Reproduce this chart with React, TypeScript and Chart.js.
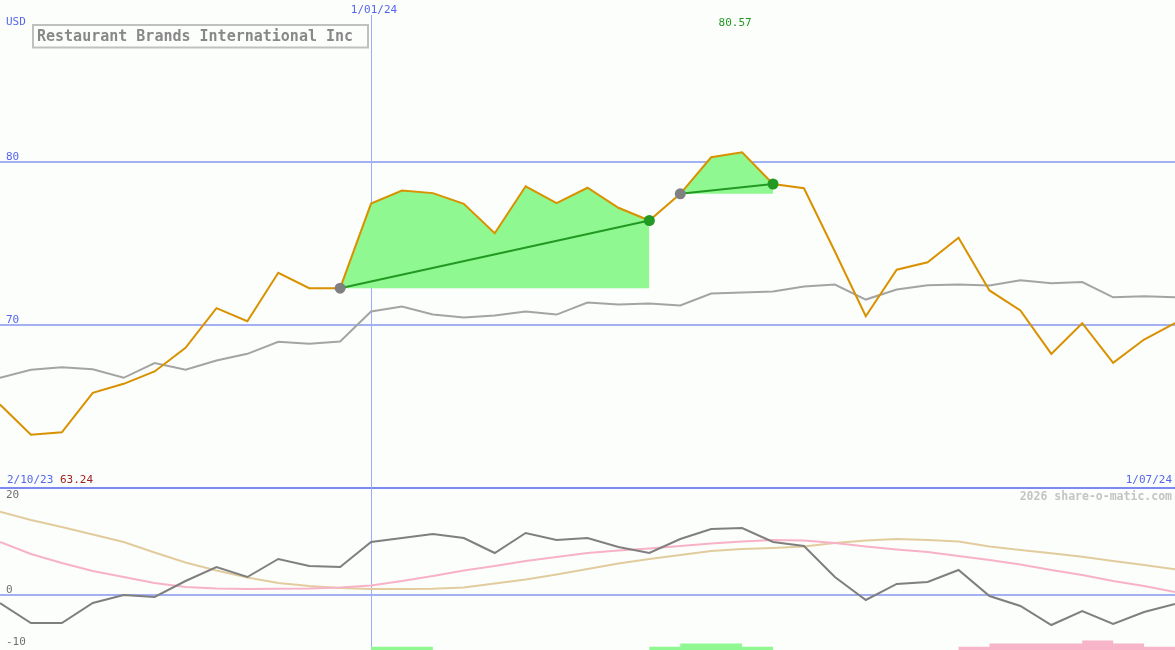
import React, { useEffect, useRef } from "react";
import { Chart, registerables } from "chart.js";

Chart.register(...registerables);

// ---- data (weekly points, index 0..38) ----
const priceRBI = [
  65.09, 63.24, 63.39, 65.81, 66.36, 67.12, 68.57, 71.0, 70.2, 73.17,
  72.23, 72.23, 77.42, 78.22, 78.06, 77.4, 75.6, 78.48, 77.44, 78.39,
  77.16, 76.38, 78.02, 80.26, 80.57, 78.62, 78.36, 74.48, 70.51, 73.36,
  73.82, 75.32, 72.09, 70.86, 68.2, 70.08, 67.65, 69.08, 70.08,
];
const indexLine = [
  66.73, 67.22, 67.38, 67.26, 66.73, 67.63, 67.22, 67.79, 68.2, 68.94,
  68.82, 68.96, 70.8, 71.1, 70.61, 70.43, 70.55, 70.8, 70.61, 71.35,
  71.23, 71.29, 71.17, 71.9, 71.96, 72.02, 72.33, 72.45, 71.53, 72.15,
  72.41, 72.45, 72.39, 72.72, 72.53, 72.6, 71.67, 71.74, 71.67,
];
const momentum = [
  -1.68, -5.89, -5.89, -1.68, 0, -0.42, 2.95, 5.89, 3.79, 7.58,
  6.11, 5.89, 11.16, 12.0, 12.84, 12.0, 8.84, 13.05, 11.58, 12.0,
  10.11, 8.84, 11.79, 13.89, 14.11, 11.16, 10.32, 3.79, -1.05, 2.32,
  2.74, 5.26, -0.21, -2.32, -6.32, -3.37, -6.11, -3.58, -1.89,
];
const pinkAvg = [
  11.16, 8.63, 6.74, 5.05, 3.79, 2.53, 1.68, 1.37, 1.26, 1.33,
  1.37, 1.58, 2.0, 2.95, 4.0, 5.16, 6.11, 7.16, 8.0, 8.84,
  9.37, 9.79, 10.32, 10.84, 11.26, 11.58, 11.47, 10.95, 10.21, 9.58,
  9.05, 8.21, 7.37, 6.42, 5.26, 4.21, 2.95, 1.89, 0.63,
];
const tanAvg = [
  17.54, 15.79, 14.32, 12.74, 11.16, 8.95, 6.84, 5.16, 3.68, 2.53,
  1.89, 1.47, 1.26, 1.26, 1.33, 1.58, 2.42, 3.26, 4.32, 5.47,
  6.63, 7.58, 8.42, 9.26, 9.68, 9.89, 10.21, 10.95, 11.47, 11.79,
  11.58, 11.26, 10.21, 9.47, 8.78, 8.06, 7.16, 6.32, 5.41,
];
const buySignal = [
  0, 0, 0, 0, 0, 0, 0, 0, 0, 0,
  0, 0, 1, 1, 0, 0, 0, 0, 0, 0,
  0, 1, 2, 2, 1, 0, 0, 0, 0, 0,
  0, 0, 0, 0, 0, 0, 0, 0, 0,
];
const sellSignal = [
  0, 0, 0, 0, 0, 0, 0, 0, 0, 0,
  0, 0, 0, 0, 0, 0, 0, 0, 0, 0,
  0, 0, 0, 0, 0, 0, 0, 0, 0, 0,
  0, 1, 2, 2, 2, 3, 2, 1, 0,
];
const tradeEntries = [11, 22];
const tradeExits = [21, 25];
const priceTicks = [80, 70];
const momentumTicks = [20, 0, -10];
const startDate = "2/10/23";
const endDate = "1/07/24";
const markerDate = "1/01/24";
const markerIndex = 12;
const titleText = "Restaurant Brands International Inc";
const currency = "USD";
const watermark = "2026 share-o-matic.com";

const W = 1175;
const H = 650;
const BG = "#fbfefb";
const GRID = "#a3b1f3";
const BLUE_TEXT = "#5565ee";
const MONO = '"DejaVu Sans Mono", "Liberation Mono", monospace';

const xy = (arr: number[], from = 0, to = arr.length - 1) =>
  arr.slice(from, to + 1).map((v, k) => ({ x: from + k, y: v }));

export default function App() {
  const ref = useRef<HTMLCanvasElement | null>(null);

  useEffect(() => {
    document.body.style.margin = "0";
    document.body.style.background = BG;
    const canvas = ref.current;
    if (!canvas) return;

    const maxV = Math.max(...priceRBI);
    const minV = Math.min(...priceRBI);
    const maxIdx = priceRBI.indexOf(maxV);

    const overlay = {
      id: "overlay",
      beforeDraw(chart: any) {
        const ctx = chart.ctx;
        ctx.save();
        ctx.fillStyle = BG;
        ctx.fillRect(0, 0, W, H);
        ctx.restore();
      },
      beforeDatasetsDraw(chart: any) {
        const ctx = chart.ctx;
        const { x, y, yM } = chart.scales;
        ctx.save();
        ctx.fillStyle = GRID;
        priceTicks.forEach((v) => {
          const py = Math.round(y.getPixelForValue(v));
          ctx.fillRect(0, py - 1, W, 2);
        });
        const pz = Math.round(yM.getPixelForValue(0));
        ctx.fillRect(0, pz - 1, W, 2);
        // panel separator (price panel floor = 60)
        ctx.fillStyle = "#7b89f0";
        const ps = Math.round(y.getPixelForValue(60));
        ctx.fillRect(0, ps - 1, W, 2);
        // vertical date marker
        const vx = Math.round(x.getPixelForValue(markerIndex));
        ctx.fillStyle = "#9aacff";
        ctx.fillRect(vx, 15, 1, H - 15);
        ctx.restore();
      },
      afterDatasetsDraw(chart: any) {
        const ctx = chart.ctx;
        const { x, y, yM } = chart.scales;
        ctx.save();
        ctx.textBaseline = "alphabetic";
        ctx.font = `11px ${MONO}`;
        // currency
        ctx.fillStyle = BLUE_TEXT;
        ctx.textAlign = "left";
        ctx.fillText(currency, 6, 25);
        // marker date
        ctx.textAlign = "center";
        ctx.fillText(markerDate, x.getPixelForValue(markerIndex) + 3, 13);
        // max label
        ctx.fillStyle = "#229922";
        ctx.fillText(maxV.toFixed(2), x.getPixelForValue(maxIdx) - 7, 26);
        // price tick labels
        ctx.textAlign = "left";
        ctx.fillStyle = BLUE_TEXT;
        priceTicks.forEach((v) => {
          ctx.fillText(String(v), 6, Math.round(y.getPixelForValue(v)) - 2);
        });
        // bottom date labels
        ctx.fillText(startDate, 7, 483);
        const sw = ctx.measureText(startDate + " ").width;
        ctx.fillStyle = "#a02222";
        ctx.fillText(minV.toFixed(2), 7 + sw, 483);
        ctx.fillStyle = BLUE_TEXT;
        ctx.textAlign = "right";
        ctx.fillText(endDate, 1172, 483);
        // watermark
        ctx.font = `bold 11.5px ${MONO}`;
        ctx.fillStyle = "#c4c4c4";
        ctx.fillText(watermark, 1172, 500);
        // momentum tick labels
        ctx.font = `11px ${MONO}`;
        ctx.textAlign = "left";
        ctx.fillStyle = "#707070";
        momentumTicks.forEach((v, k) => {
          let py = Math.round(yM.getPixelForValue(v)) - 2;
          if (k === momentumTicks.length - 1) py = H - 5;
          ctx.fillText(String(v), 6, py);
        });
        // title box
        ctx.strokeStyle = "#c0c0c0";
        ctx.lineWidth = 2;
        ctx.strokeRect(33, 25, 335, 22.5);
        ctx.font = `bold 15px ${MONO}`;
        ctx.fillStyle = "#888888";
        ctx.fillText(titleText, 37, 41);
        ctx.restore();
      },
    };

    const datasets: any[] = [];
    tradeEntries.forEach((a, k) => {
      const b = tradeExits[k];
      datasets.push({
        data: xy(priceRBI, a, b),
        yAxisID: "y",
        borderWidth: 0,
        pointRadius: 0,
        backgroundColor: "#90f890",
        fill: { value: priceRBI[a] },
        order: 20,
      });
    });
    datasets.push({
      data: xy(buySignal),
      yAxisID: "yS",
      stepped: "before",
      borderWidth: 0,
      pointRadius: 0,
      backgroundColor: "#90f890",
      fill: "start",
      order: 19,
    });
    datasets.push({
      data: xy(sellSignal),
      yAxisID: "yS",
      stepped: "before",
      borderWidth: 0,
      pointRadius: 0,
      backgroundColor: "#f8b4c8",
      fill: "start",
      order: 19,
    });
    datasets.push({
      data: xy(tanAvg),
      yAxisID: "yM",
      borderColor: "#e2cc9e",
      borderWidth: 2,
      pointRadius: 0,
      fill: false,
      order: 15,
    });
    datasets.push({
      data: xy(pinkAvg),
      yAxisID: "yM",
      borderColor: "#f8b2c8",
      borderWidth: 2,
      pointRadius: 0,
      fill: false,
      order: 14,
    });
    datasets.push({
      data: xy(momentum),
      yAxisID: "yM",
      borderColor: "#7f7f7f",
      borderWidth: 2,
      pointRadius: 0,
      fill: false,
      order: 13,
    });
    datasets.push({
      data: xy(indexLine),
      yAxisID: "y",
      borderColor: "#a4a4a4",
      borderWidth: 2,
      pointRadius: 0,
      fill: false,
      order: 12,
    });
    datasets.push({
      data: xy(priceRBI),
      yAxisID: "y",
      borderColor: "#d99100",
      borderWidth: 2,
      pointRadius: 0,
      fill: false,
      order: 10,
    });
    tradeEntries.forEach((a, k) => {
      const b = tradeExits[k];
      datasets.push({
        data: [
          { x: a, y: priceRBI[a] },
          { x: b, y: priceRBI[b] },
        ],
        yAxisID: "y",
        borderColor: "#229922",
        borderWidth: 2,
        pointRadius: 0,
        fill: false,
        order: 5,
      });
    });
    datasets.push({
      data: tradeEntries.map((a) => ({ x: a, y: priceRBI[a] })),
      yAxisID: "y",
      showLine: false,
      pointRadius: 5.5,
      pointBorderWidth: 0,
      pointBackgroundColor: "#808080",
      order: 2,
    });
    datasets.push({
      data: tradeExits.map((b) => ({ x: b, y: priceRBI[b] })),
      yAxisID: "y",
      showLine: false,
      pointRadius: 5.5,
      pointBorderWidth: 0,
      pointBackgroundColor: "#229922",
      order: 1,
    });

    const chart = new Chart(canvas, {
      type: "line",
      data: { datasets },
      options: {
        responsive: false,
        maintainAspectRatio: false,
        animation: false,
        devicePixelRatio: 1,
        events: [],
        layout: { padding: 0, autoPadding: false },
        plugins: { legend: { display: false }, tooltip: { enabled: false } },
        elements: { line: { tension: 0 } },
        scales: {
          x: { type: "linear", min: 0, max: priceRBI.length - 1, display: false },
          y: { type: "linear", min: 50.031, max: 89.908, display: false },
          yM: { type: "linear", min: -11.579, max: 125.263, display: false },
          yS: { type: "linear", min: 0, max: 203.125, display: false },
        },
      },
      plugins: [overlay],
    } as any);

    return () => chart.destroy();
  }, []);

  return (
    <canvas
      ref={ref}
      width={W}
      height={H}
      style={{ display: "block", width: W, height: H }}
    />
  );
}
